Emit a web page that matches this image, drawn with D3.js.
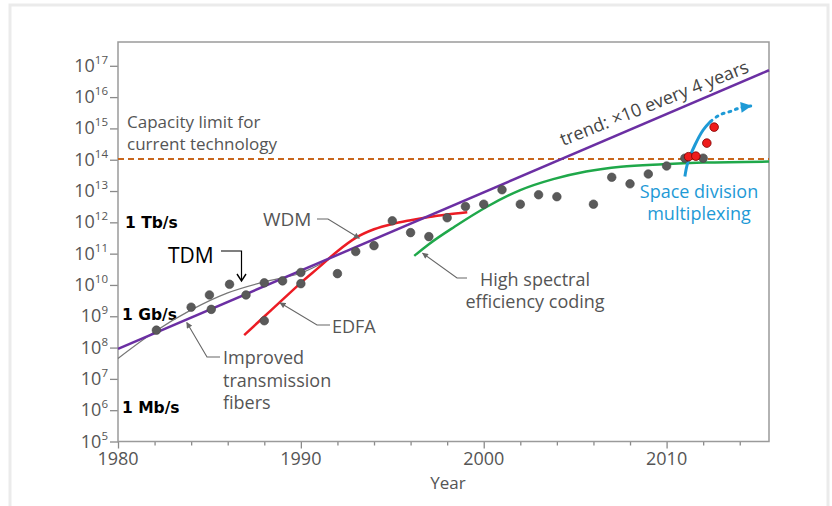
<!DOCTYPE html>
<html><head><meta charset="utf-8">
<script src="https://cdn.jsdelivr.net/npm/d3@7"></script>
<style>
body{margin:0;background:#fff;}
svg text{font-family:"Open Sans",sans-serif;}
</style></head><body>
<svg id="c" width="832" height="506"></svg>
<script>
// ---------- data ----------
const yearTicks = [1980,1982,1984,1986,1988,1990,1992,1994,1996,1998,2000,2002,2004,2006,2008,2010,2012,2014];
const yearLabels = [1980,1990,2000,2010];
const capacityTicks = [1e5,1e6,1e7,1e8,1e9,1e10,1e11,1e12,1e13,1e14,1e15,1e16,1e17];
const capacityExponents = ["5","6","7","8","9","10","11","12","13","14","15","16","17"];
const speedLabels = ["1 Mb/s","1 Gb/s","1 Tb/s"];
const speedValues = [1e6,1e9,1e12];

const experimentYears = [1982.1,1984,1985,1985.1,1986.1,1987,1988,1988,1989,1990,1990,1992,1993,1994,1995,1996,1997,1998,1999,2000,2001,2002,2003,2004,2006,2007,2008,2009,2010,2011,2012];
const experimentCapacity = [3.6e8,1.95e9,4.8e9,1.66e9,1.05e10,4.8e9,1.17e10,7.2e8,1.35e10,2.5e10,1.1e10,2.3e10,1.17e11,1.8e11,1.12e12,4.7e11,3.5e11,1.4e12,3.2e12,3.8e12,1.1e13,3.8e12,7.6e12,6.6e12,3.8e12,2.75e13,1.7e13,3.5e13,6.3e13,1.12e14,1.12e14];

const sdmDotYears = [2011.2,2011.6,2012.2,2012.6];
const sdmDotCapacity = [1.25e14,1.3e14,3.4e14,1.1e15];

const trendYears = [1980,2015.6];
const trendCapacity = [9.1e7,7.2e16];

const limitYears = [1980,2015.6];
const limitCapacity = [1.05e14,1.05e14];

const tdmYears = [1980,1982,1984,1986,1988,1990,1991.5];
const tdmCapacity = [4.5e7,3.2e8,1.6e9,5.6e9,1.26e10,2.4e10,6.3e10];

const wdmYears = [1986.9,1988,1989,1990,1991,1992,1993,1994,1995,1996,1997,1998,1999.1];
const wdmCapacity = [2.5e8,9.8e8,3.4e9,1.17e10,3.7e10,1.2e11,3.2e11,6.0e11,8.9e11,1.17e12,1.48e12,1.78e12,2.1e12];

const codingYears = [1996.2,1997,1998.4,2000.2,2002,2003.8,2005.6,2007.5,2009.8,2012,2015.6];
const codingCapacity = [8.5e10,2.0e11,7.2e11,3.2e12,1.07e13,2.4e13,4.2e13,6.0e13,7.2e13,8.1e13,8.7e13];

const sdmSolidYears = [2011.0,2011.15,2011.55,2012.0,2012.4];
const sdmSolidCapacity = [2.9e13,7.8e13,2.95e14,8.9e14,1.66e15];
const sdmDottedYears = [2012.4,2012.9,2013.5,2014.0,2014.6];
const sdmDottedCapacity = [1.66e15,2.7e15,3.5e15,4.5e15,5.2e15];

// ---------- chart ----------
const svg = d3.select("#c");
const L = 118, R = 769, T = 42, B = 441.5;
const x = d3.scaleLinear().domain([1980, 2015.6]).range([L, R]);
const y = d3.scaleLog().domain([1e5, Math.pow(10, 17.76)]).range([B, T]);

// outer frame
svg.append("rect").attr("x",10).attr("y",5).attr("width",818).attr("height",520)
  .attr("fill","none").attr("stroke","#ebebeb").attr("stroke-width",3);

const grey = "#5a5a5a";
const defs = svg.append("defs");
function marker(id, color, w, h){
  defs.append("marker").attr("id",id).attr("viewBox","0 0 10 10").attr("refX",9).attr("refY",5)
    .attr("markerWidth",w).attr("markerHeight",h).attr("orient","auto").attr("markerUnits","userSpaceOnUse")
    .append("path").attr("d","M0,0L10,5L0,10Z").attr("fill",color);
}
marker("arrGrey", "#666", 7, 6);
marker("arrBlue", "#1e9ad6", 13, 11);

// axes
const yAxis = d3.axisLeft(y).tickValues(capacityTicks).tickSize(8).tickFormat("");
const gy = svg.append("g").attr("transform",`translate(${L},0)`).call(yAxis);
gy.select(".domain").remove();
gy.selectAll(".tick line").attr("stroke","#8a8a8a").attr("stroke-width",1.3);

const xAxis = d3.axisBottom(x).tickValues(yearTicks).tickSize(4).tickFormat("");
const gx = svg.append("g").attr("transform",`translate(0,${B})`).call(xAxis);
gx.select(".domain").remove();
gx.selectAll(".tick line").attr("stroke","#8a8a8a").attr("stroke-width",1.3)
  .attr("y2", d => yearLabels.includes(d) ? 7 : 4);

// frame of plot
svg.append("rect").attr("x",L).attr("y",T).attr("width",R-L).attr("height",B-T)
  .attr("fill","none").attr("stroke","#9a9a9a").attr("stroke-width",1.5);

// y tick labels
capacityTicks.forEach((v,i) => {
  const t = svg.append("text").attr("x",108).attr("y",y(v)+6).attr("text-anchor","end")
    .attr("fill","#555").attr("font-size",18);
  t.append("tspan").text("10");
  t.append("tspan").attr("dy",-8).attr("font-size",11.5).text(capacityExponents[i]);
});
// x tick labels
yearLabels.forEach(v => {
  svg.append("text").attr("x",x(v)).attr("y",465).attr("text-anchor","middle")
    .attr("fill","#555").attr("font-size",18).text(v);
});
svg.append("text").attr("x",448).attr("y",489).attr("text-anchor","middle")
  .attr("fill","#555").attr("font-size",17).text("Year");

// speed labels
speedLabels.forEach((s,i) => {
  svg.append("text").attr("x", i===2 ? 125 : 122).attr("y", y(speedValues[i]) + (i===0?3:i===1?4:6))
    .attr("font-weight","bold").attr("font-size",15.5)
    .attr("fill","#000").style("font-family","'DejaVu Sans'").text(s);
});

const line = (xs, ys, curve) => d3.line().x((d,i)=>x(xs[i])).y((d,i)=>y(ys[i])).curve(curve || d3.curveLinear)(xs);

// capacity limit dashed line
svg.append("path").attr("d", line(limitYears, limitCapacity)).attr("fill","none")
  .attr("stroke","#c8661c").attr("stroke-width",2).attr("stroke-dasharray","6,4");

// TDM grey curve
svg.append("path").attr("d", line(tdmYears, tdmCapacity, d3.curveMonotoneX)).attr("fill","none")
  .attr("stroke","#777").attr("stroke-width",1.2);
// WDM red
svg.append("path").attr("d", line(wdmYears, wdmCapacity, d3.curveMonotoneX)).attr("fill","none")
  .attr("stroke","#ec1c24").attr("stroke-width",2.5);
// coding green
svg.append("path").attr("d", line(codingYears, codingCapacity, d3.curveMonotoneX)).attr("fill","none")
  .attr("stroke","#1fa84a").attr("stroke-width",2.5);
// trend purple
svg.append("path").attr("d", line(trendYears, trendCapacity)).attr("fill","none")
  .attr("stroke","#6b2fa3").attr("stroke-width",2.5);

// SDM blue
svg.append("path").attr("d", line(sdmSolidYears, sdmSolidCapacity, d3.curveCatmullRom)).attr("fill","none")
  .attr("stroke","#1e9ad6").attr("stroke-width",3);
svg.append("path").attr("d", line(sdmDottedYears, sdmDottedCapacity, d3.curveCatmullRom)).attr("fill","none")
  .attr("stroke","#1e9ad6").attr("stroke-width",3).attr("stroke-dasharray","2,5")
  .attr("stroke-linecap","round").attr("marker-end","url(#arrBlue)");

// experiment dots
svg.append("g").selectAll("circle").data(experimentYears).join("circle")
  .attr("cx",(d)=>x(d)).attr("cy",(d,i)=>y(experimentCapacity[i])).attr("r",4.3)
  .attr("fill",grey).attr("stroke","#444").attr("stroke-width",0.6);
svg.append("g").selectAll("circle").data(sdmDotYears).join("circle")
  .attr("cx",(d)=>x(d)).attr("cy",(d,i)=>y(sdmDotCapacity[i])).attr("r",4.3)
  .attr("fill","#ee1c1c").attr("stroke","#7a0000").attr("stroke-width",0.8);

// annotation texts (multi-line as one text element with tspans)
const ann = (tx, ty, lines, opts={}) => {
  const t = svg.append("text").attr("x",tx).attr("y",ty)
    .attr("fill", opts.fill || "#555").attr("font-size", opts.size || 18)
    .attr("text-anchor", opts.anchor || "start");
  lines.forEach((s,i) => t.append("tspan").attr("x",tx).attr("dy", i===0 ? 0 : (opts.lh || 22.5)).text(s));
  return t;
};

ann(127,128,["Capacity limit for","current technology"],{size:17,lh:21.5});
ann(263,226,["WDM"],{size:19});
ann(332,333,["EDFA"]);
ann(223,364,["Improved","transmission","fibers"],{lh:22.5});
ann(535,285.5,["High spectral","efficiency coding"],{anchor:"middle",lh:22.5});
ann(699,197.5,["Space division","multiplexing"],{anchor:"middle",fill:"#1e9ad6",lh:22.5});
ann(168,263,["TDM"],{size:21,fill:"#000"});

// trend label rotated along the trend line
const ang = Math.atan2(y(trendCapacity[1])-y(trendCapacity[0]), x(trendYears[1])-x(trendYears[0]))*180/Math.PI;
svg.append("text").attr("transform",`translate(563,146) rotate(${ang+1.5})`)
  .attr("fill","#444").attr("font-size",18).text("trend: \u00d710 every 4 years");

// leader lines (pointing to the curves)
const leader = (pts) => svg.append("path").attr("d", d3.line()(pts)).attr("fill","none")
  .attr("stroke","#666").attr("stroke-width",1.1).attr("marker-end","url(#arrGrey)");
leader([[317,219],[328,219],[x(1993.2), y(3.6e11)+2]]);
leader([[330,325],[317,325],[x(1988.86), y(2.9e9)+1]]);
leader([[220,357],[207,357],[x(1983.76), y(7.9e8)+3]]);
leader([[467,278],[457,278],[x(1996.6)+1, y(1.2e11)+2]]);

// TDM arrow (black)
svg.append("path").attr("d","M221,251H241.5V280").attr("fill","none").attr("stroke","#000").attr("stroke-width",1.2);
svg.append("path").attr("d","M237,274L241.5,281L246,274").attr("fill","none").attr("stroke","#000").attr("stroke-width",1.4);
</script>
</body></html>
